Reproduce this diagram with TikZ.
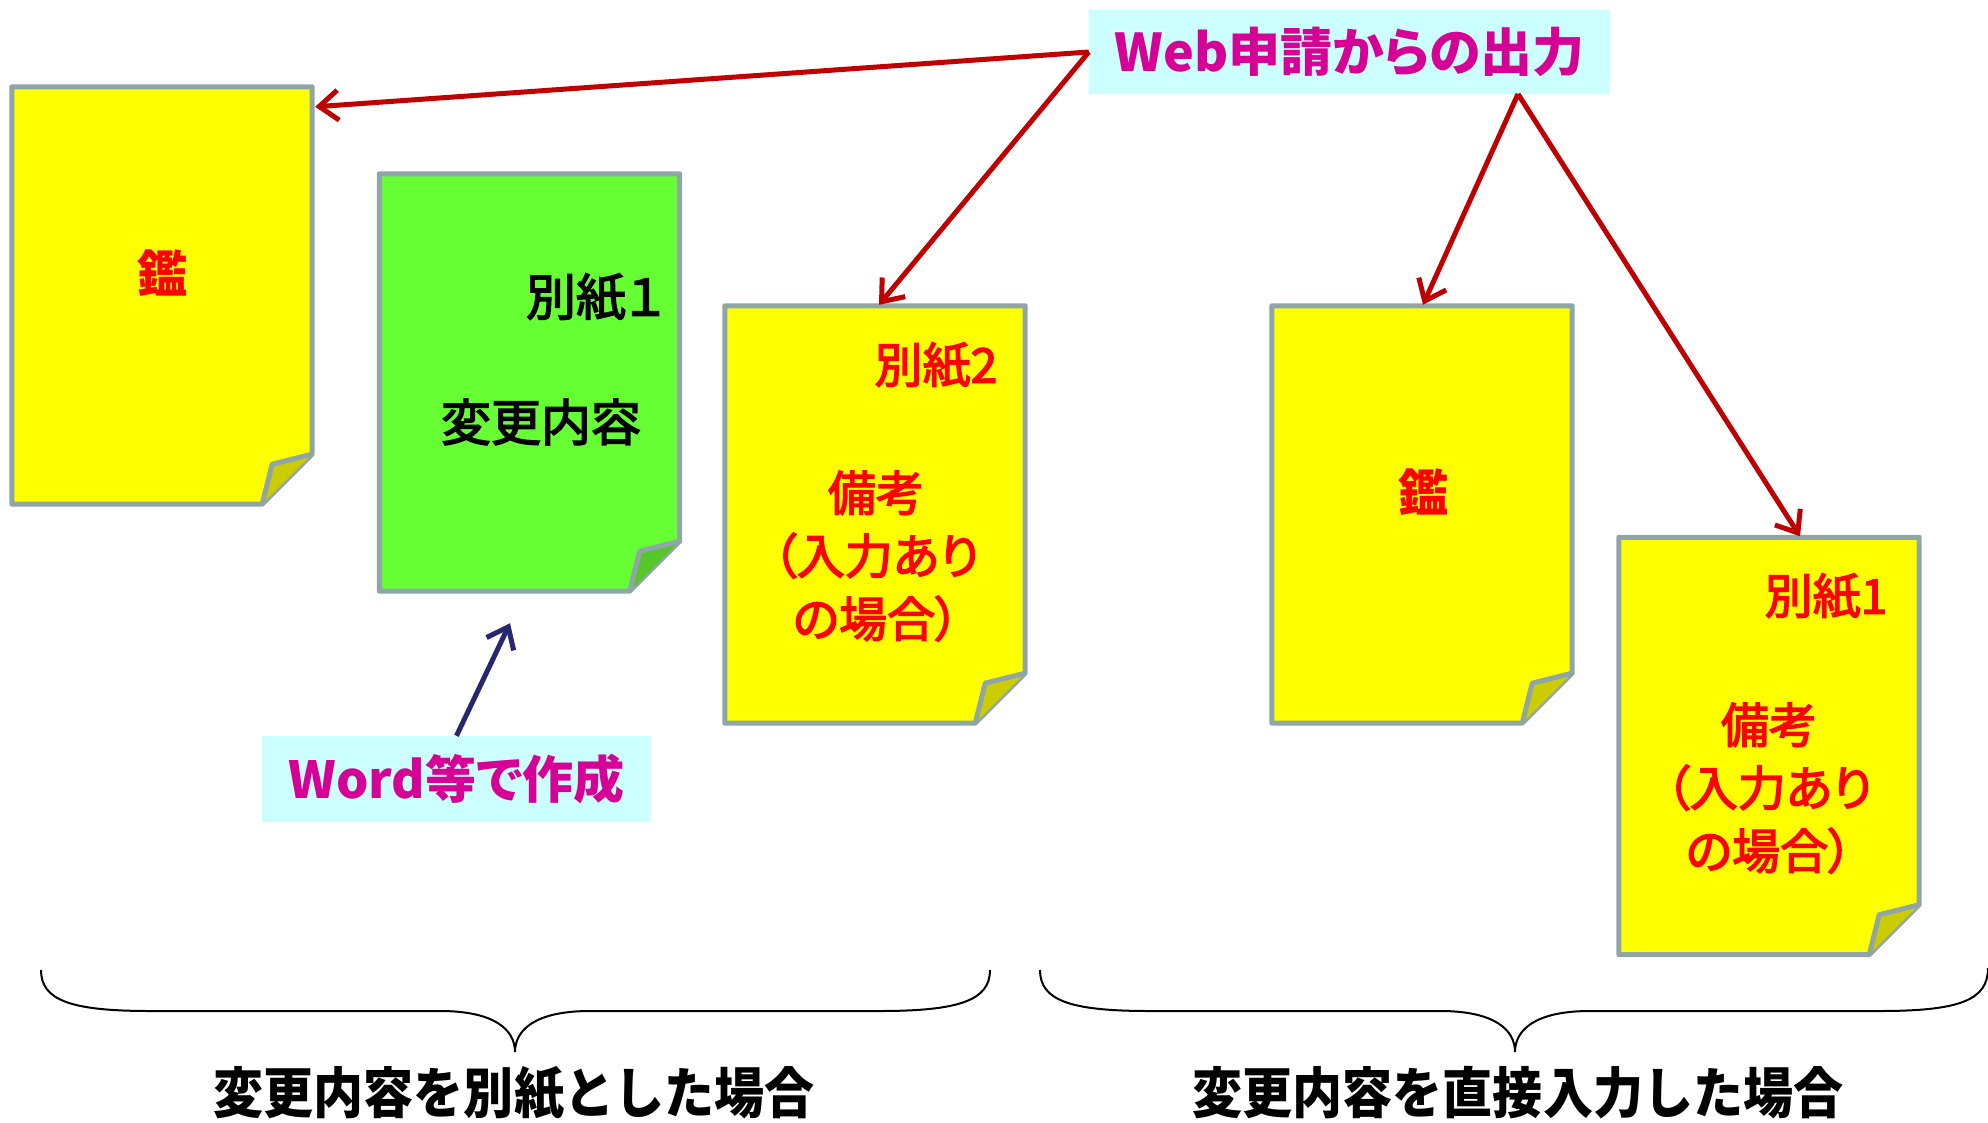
\documentclass[tikz,border=0pt]{standalone}
\usepackage{fontspec}
\setmainfont{Noto Sans CJK JP}[RawFeature=+palt]
\newfontfamily\jpmed{Noto Sans CJK JP}[RawFeature=+palt,FakeBold=3]
\newfontfamily\jpmono{Noto Sans CJK JP}
\usetikzlibrary{calc,arrows.meta}
\definecolor{docyellow}{RGB}{255,255,0}
\definecolor{docgreen}{RGB}{102,255,51}
\definecolor{foldyellow}{RGB}{204,204,0}
\definecolor{foldgreen}{RGB}{85,200,40}
\definecolor{docgrey}{RGB}{143,165,168}
\definecolor{arrred}{RGB}{192,0,0}
\definecolor{txtred}{RGB}{255,0,0}
\definecolor{labmag}{RGB}{214,0,150}
\definecolor{labfill}{RGB}{204,255,255}
\definecolor{navy}{RGB}{40,40,112}
\tikzset{
  docshape/.style={rectangle,minimum width=300pt,minimum height=417pt,inner sep=0pt},
  docline/.style={draw=docgrey,line width=5pt,line join=round},
  redarrow/.style={draw=arrred,line width=5pt,-{Straight Barb[length=19pt,width=30pt,line width=5pt]}},
  navyarrow/.style={draw=navy,line width=5pt,-{Straight Barb[length=19pt,width=30pt,line width=5pt]}},
  labelbox/.style={fill=labfill,text=labmag,inner sep=0pt,font=\bfseries\fontsize{52}{60}\selectfont},
  doctxt/.style={inner sep=0pt,align=center,font=\jpmed\fontsize{48}{63}\selectfont},
  bracket/.style={draw=black,line width=2pt},
  bottomtxt/.style={inner sep=0pt,font=\jpmono\bfseries\fontsize{55}{60}\selectfont}
}
\newcommand\paperdoc[3]{%
  \draw[docline,fill=#2] (#1.north west) -- (#1.north east) -- ($(#1.south east)+(0,-50)$)
     -- ($(#1.south east)+(-50,0)$) -- (#1.south west) -- cycle;
  \draw[docline,fill=#3] ($(#1.south east)+(0,-50)$) -- ($(#1.south east)+(-40,-40)$)
     -- ($(#1.south east)+(-50,0)$);
}
\begin{document}
\begin{tikzpicture}[x=1pt,y=-1pt]
\useasboundingbox (0,0) rectangle (1988,1123);
% documents
\node[docshape] (d1) at (162,295.5) {};
\node[docshape] (d2) at (529.5,382.5) {};
\node[docshape] (d3) at (875,514.5) {};
\node[docshape] (d4) at (1422,514.5) {};
\node[docshape] (d5) at (1769,746) {};
\paperdoc{d1}{docyellow}{foldyellow}
\paperdoc{d2}{docgreen}{foldgreen}
\paperdoc{d3}{docyellow}{foldyellow}
\paperdoc{d4}{docyellow}{foldyellow}
\paperdoc{d5}{docyellow}{foldyellow}
% document texts
\node[doctxt,text=txtred,font=\bfseries\fontsize{50}{60}\selectfont] (t1) at (162,273) {鑑};
\node[doctxt,text=black,font=\jpmed\fontsize{50}{60}\selectfont] (t2a) at (595,297) {別紙１};
\node[doctxt,text=black,font=\jpmed\fontsize{50}{60}\selectfont] (t2b) at (541,422) {変更内容};
\node[doctxt,text=txtred] (t3a) at (936,365) {別紙2};
\node[doctxt,text=txtred] (t3b) at (876,556) {備考\\（入力あり\\の場合）};
\node[doctxt,text=txtred,font=\bfseries\fontsize{50}{60}\selectfont] (t4) at (1423,492) {鑑};
\node[doctxt,text=txtred] (t5a) at (1826,596) {別紙1};
\node[doctxt,text=txtred] (t5b) at (1769,788) {備考\\（入力あり\\の場合）};
% labels
\node[labelbox,minimum width=521pt,minimum height=84pt] (web) at (1349.5,52) {Web申請からの出力};
\node[labelbox,minimum width=389pt,minimum height=86pt,font=\bfseries\fontsize{51}{60}\selectfont] (word) at (456.5,779) {Word等で作成};
% arrow endpoints
\coordinate (a1) at ($(d1.north east)+(3,20)$);
\coordinate (a2) at ($(d3.north)+(4,-1)$);
\coordinate (wb) at (1518,94);
\coordinate (a3) at ($(d4.north)+(1,-1)$);
\coordinate (a4) at ($(d5.north)+(31,-1)$);
\coordinate (w1) at ($(d2.south)+(-19.5,32)$);
\draw[redarrow] (web.west) -- (a1);
\draw[redarrow] (web.west) -- (a2);
\draw[redarrow] (wb) -- (a3);
\draw[redarrow] (wb) -- (a4);
\draw[navyarrow] (word.north) -- (w1);
% braces
\coordinate (bl1) at (41,970);
\coordinate (bl2) at (990,970);
\coordinate (bltip) at (515,1052);
\draw[bracket] (bl1) .. controls (41,1000) and (70,1011) .. (150,1011) -- (440,1011)
  .. controls (495,1011) and (515,1030) .. (bltip)
  .. controls (515,1030) and (535,1011) .. (590,1011) -- (880,1011)
  .. controls (960,1011) and (990,1000) .. (bl2);
\coordinate (br1) at (1040,970);
\coordinate (br2) at (1988,968);
\coordinate (brtip) at (1515,1052);
\draw[bracket] (br1) .. controls (1040,1000) and (1069,1011) .. (1149,1011) -- (1440,1011)
  .. controls (1495,1011) and (1515,1030) .. (brtip)
  .. controls (1515,1030) and (1535,1011) .. (1590,1011) -- (1880,1011)
  .. controls (1960,1011) and (1988,1000) .. (br2);
\node[bottomtxt] (b1) at (514,1093) {\scalebox{0.91}[1]{変更内容を別紙とした場合}};
\node[bottomtxt] (b2) at (1518,1093) {\scalebox{0.91}[1]{変更内容を直接入力した場合}};
\end{tikzpicture}
\end{document}
